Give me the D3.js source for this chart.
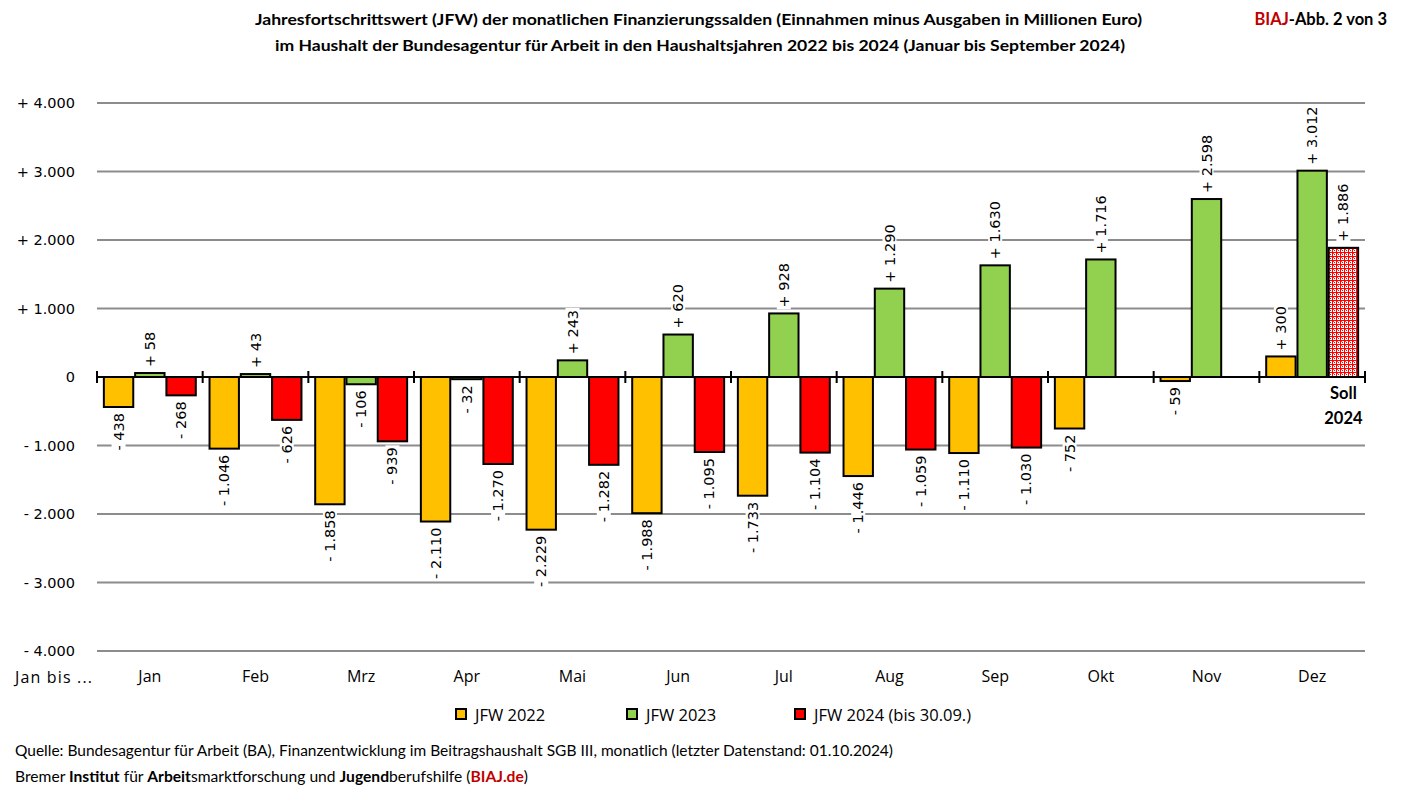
<!DOCTYPE html>
<html><head><meta charset="utf-8">
<script src="https://cdn.jsdelivr.net/npm/d3@7"></script>
<style>body{margin:0;background:#fff}svg{display:block}</style>
</head><body><svg id="c" width="1403" height="799"></svg>
<script>
const months = ["Jan","Feb","Mrz","Apr","Mai","Jun","Jul","Aug","Sep","Okt","Nov","Dez"];
const series = ["JFW 2022","JFW 2023","JFW 2024 (bis 30.09.)"];
const jfw2022 = [-438,-1046,-1858,-2110,-2229,-1988,-1733,-1446,-1110,-752,-59,300];
const jfw2023 = [58,43,-106,-32,243,620,928,1290,1630,1716,2598,3012];
const jfw2024 = [-268,-626,-939,-1270,-1282,-1095,-1104,-1059,-1030,null,null,1886];
const yTicks = [-4000,-3000,-2000,-1000,0,1000,2000,3000,4000];
const colors = ["#FFC000","#92D050","#FF0000"];

const svg = d3.select("#c");
const defs = svg.append("defs");
const pat = defs.append("pattern").attr("id","chk").attr("patternUnits","userSpaceOnUse").attr("width",4).attr("height",4);
pat.append("rect").attr("width",4).attr("height",4).attr("fill","#ffffff").attr("shape-rendering","crispEdges");
pat.append("rect").attr("x",0).attr("y",0).attr("width",4).attr("height",1).attr("fill","#FF0000").attr("shape-rendering","crispEdges");
pat.append("rect").attr("x",0).attr("y",0).attr("width",1).attr("height",4).attr("fill","#FF0000").attr("shape-rendering","crispEdges");
pat.append("rect").attr("x",2).attr("y",2).attr("width",1).attr("height",1).attr("fill","#FF0000").attr("shape-rendering","crispEdges");
pat.append("rect").attr("x",1).attr("y",1).attr("width",1).attr("height",1).attr("fill","#FF4040").attr("shape-rendering","crispEdges");

const L = 97, R = 1365;
const x = d3.scaleBand().domain(months).range([L,R]).paddingInner(0.13).paddingOuter(0.065);
const xs = d3.scaleBand().domain(d3.range(3)).range([0,x.bandwidth()]).paddingInner(0.06);
const y = d3.scaleLinear().domain([-4000,4000]).range([651,103]);

const fmtNum = d3.formatLocale({decimal:",",thousands:".",grouping:[3],currency:["","€"]}).format(",d");
const fmt = v => (v>=0?"+ ":"- ")+fmtNum(Math.abs(v));
const fmtY = v => v===0?"0":(v>0?"+ ":"- ")+fmtNum(Math.abs(v));
const vf = "'DejaVu Sans', Verdana, sans-serif";
const sf = "'Open Sans', sans-serif";

// gridlines
svg.append("g").selectAll("line").data(yTicks.filter(d=>d!==0)).join("line")
  .attr("x1",L).attr("x2",R).attr("y1",d=>y(d)).attr("y2",d=>y(d))
  .attr("stroke","#8c8c8c").attr("stroke-width",2);
svg.append("g").selectAll("text").data(yTicks).join("text")
  .attr("x",75).attr("y",d=>y(d)+5).attr("text-anchor","end")
  .attr("font-family",vf).attr("font-size",14.5).text(fmtY);

const all = [jfw2022,jfw2023,jfw2024];
const bars = [];
all.forEach((arr,si)=>arr.forEach((v,mi)=>{ if(v!==null) bars.push({si,mi,v}); }));

const bx = d => x(months[d.mi]) + xs(d.si);
const gBars = svg.append("g");
gBars.selectAll("rect").data(bars).join("rect")
  .attr("x",bx).attr("width",xs.bandwidth())
  .attr("y",d=>y(Math.max(0,d.v))).attr("height",d=>Math.abs(y(d.v)-y(0)))
  .attr("fill",d=>(d.si===2&&d.mi===11)?"url(#chk)":colors[d.si])
  .attr("stroke","#000").attr("stroke-width",2);

// zero axis
svg.append("line").attr("x1",L).attr("x2",R).attr("y1",y(0)).attr("y2",y(0)).attr("stroke","#000").attr("stroke-width",2);
svg.append("g").selectAll("line").data(d3.range(13)).join("line")
  .attr("x1",i=>L+i*(R-L)/12).attr("x2",i=>L+i*(R-L)/12)
  .attr("y1",y(0)-6).attr("y2",y(0)+6).attr("stroke","#000").attr("stroke-width",2);

// value labels
const gLab = svg.append("g");
bars.forEach(d=>{
  const cx = bx(d) + xs.bandwidth()/2;
  const end = y(d.v);
  const g = gLab.append("g").attr("transform",`translate(${cx+5},${d.v>=0?end-6:end+6}) rotate(-90)`);
  const t = g.append("text").attr("font-family",vf).attr("font-size",14.5)
    .attr("text-anchor",d.v>=0?"start":"end").text(fmt(d.v));
  const bb = t.node().getBBox();
  g.insert("rect","text").attr("x",bb.x-2).attr("y",bb.y+1).attr("width",bb.width+4).attr("height",bb.height-2).attr("fill","#fff");
});

// month labels
svg.append("g").selectAll("text").data(months).join("text")
  .attr("x",d=>x(d)+x.bandwidth()/2).attr("y",682).attr("text-anchor","middle")
  .attr("font-family",sf).attr("font-size",16).text(d=>d);
svg.append("text").attr("x",15).attr("y",683).attr("font-family",sf).attr("font-size",16)
  .attr("textLength",77).attr("lengthAdjust","spacing").text("Jan bis ...");

// Soll 2024
const tf = "Lato, 'Open Sans', sans-serif";
const sx = x("Dez") + xs(2) + xs.bandwidth()/2;
svg.append("text").attr("x",sx).attr("y",399).attr("text-anchor","middle").attr("font-family",tf).attr("font-weight","bold").attr("font-size",16.5).text("Soll");
svg.append("text").attr("x",sx).attr("y",424).attr("text-anchor","middle").attr("font-family",tf).attr("font-weight","bold").attr("font-size",16.5).text("2024");

// title
svg.append("text").attr("x",255).attr("y",25).attr("font-family",tf).attr("font-weight","bold").attr("font-size",16)
  .attr("textLength",887).attr("lengthAdjust","spacingAndGlyphs")
  .text("Jahresfortschrittswert (JFW) der monatlichen Finanzierungssalden (Einnahmen minus Ausgaben in Millionen Euro)");
svg.append("text").attr("x",275).attr("y",51).attr("font-family",tf).attr("font-weight","bold").attr("font-size",16)
  .attr("textLength",850).attr("lengthAdjust","spacingAndGlyphs")
  .text("im Haushalt der Bundesagentur für Arbeit in den Haushaltsjahren 2022 bis 2024 (Januar bis September 2024)");
const tr = svg.append("text").attr("x",1387).attr("y",25).attr("text-anchor","end").attr("font-family",tf).attr("font-weight","bold").attr("font-size",16.5);
tr.append("tspan").attr("fill","#C00000").text("BIAJ");
tr.append("tspan").attr("fill","#000").text("-Abb. 2 von 3");

// legend
const lx = [456,627,795];
const lg = svg.append("g");
series.forEach((s,i)=>{
  lg.append("rect").attr("x",lx[i]).attr("y",709).attr("width",10).attr("height",10).attr("fill",colors[i]).attr("stroke","#000").attr("stroke-width",2);
  lg.append("text").attr("x",lx[i]+19).attr("y",721).attr("font-family",sf).attr("font-size",16.5).text(s);
});

// footer
const ff = "Lato, sans-serif";
svg.append("text").attr("x",15).attr("y",756).attr("font-family",ff).attr("font-size",14.5).attr("textLength",878).attr("lengthAdjust","spacingAndGlyphs")
  .text("Quelle: Bundesagentur für Arbeit (BA), Finanzentwicklung im Beitragshaushalt SGB III, monatlich (letzter Datenstand: 01.10.2024)");
const f2 = svg.append("text").attr("x",15).attr("y",782).attr("font-family",ff).attr("font-size",14.5).attr("textLength",513).attr("lengthAdjust","spacingAndGlyphs");
[["Bremer ",0],["Institut",1],[" für ",0],["Arbeit",1],["smarktforschung und ",0],["Jugend",1],["berufshilfe (",0],["BIAJ.de",2],[")",0]].forEach(([t,b])=>{
  f2.append("tspan").attr("font-weight",b?"bold":"normal").attr("fill",b===2?"#C00000":"#000").text(t);
});
</script></body></html>
